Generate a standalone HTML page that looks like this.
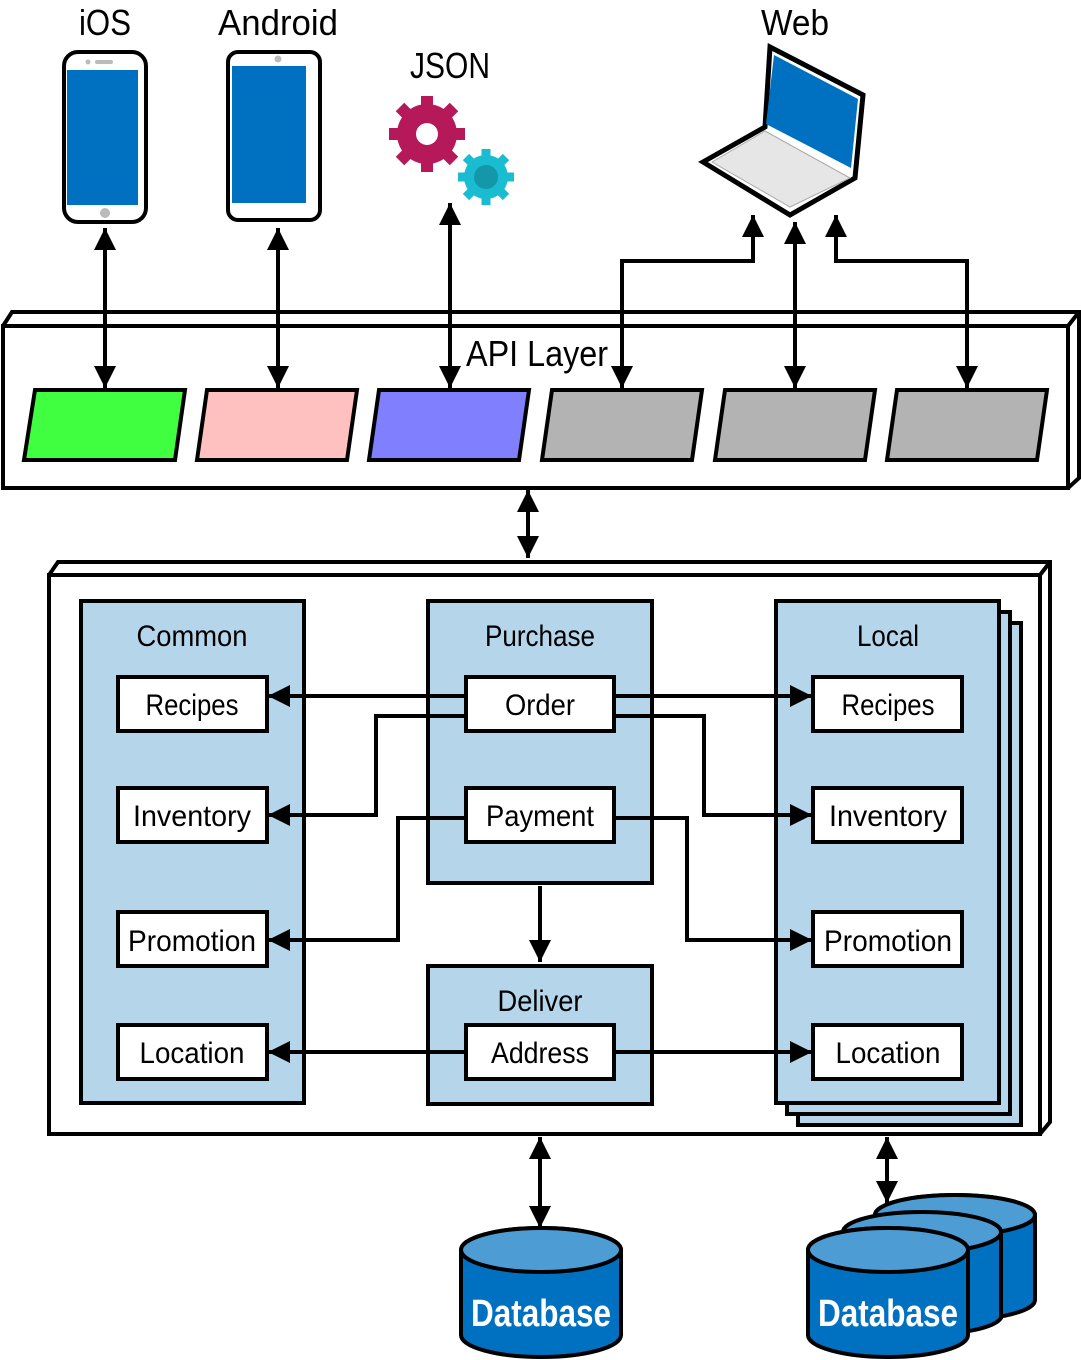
<!DOCTYPE html>
<html><head><meta charset="utf-8"><style>
html,body{margin:0;padding:0;background:#fff}
svg{display:block}
text{font-family:"Liberation Sans",sans-serif;fill:#000}
</style></head><body>
<svg width="1081" height="1360" viewBox="0 0 1081 1360" xmlns="http://www.w3.org/2000/svg">
<defs>
<marker id="a" viewBox="0 0 10 10" refX="10" refY="5" markerWidth="5.5" markerHeight="5.5" orient="auto-start-reverse" markerUnits="strokeWidth"><path d="M0,0 L10,5 L0,10 z" fill="#000"/></marker>
</defs>
<g stroke="#000" stroke-width="4" fill="none" stroke-linejoin="miter">
<path d="M3,326 L12,312 L1079,312 L1079,478 L1068,488" fill="#fff"/>
<rect x="3" y="326" width="1065" height="162" fill="#fff"/>
<line x1="1068" y1="326" x2="1079" y2="312"/>
<polygon points="35,390 185,390 175,460 24,460" fill="#40ff40"/>
<polygon points="207,390 357,390 347,460 197,460" fill="#ffc0c0"/>
<polygon points="379,390 529,390 519,460 369,460" fill="#8080ff"/>
<polygon points="552,390 702,390 692,460 542,460" fill="#b3b3b3"/>
<polygon points="725,390 875,390 865,460 715,460" fill="#b3b3b3"/>
<polygon points="897,390 1047,390 1037,460 887,460" fill="#b3b3b3"/>
<line x1="105" y1="228" x2="105" y2="388" marker-start="url(#a)" marker-end="url(#a)"/>
<line x1="278" y1="228" x2="278" y2="388" marker-start="url(#a)" marker-end="url(#a)"/>
<line x1="450" y1="203" x2="450" y2="388" marker-start="url(#a)" marker-end="url(#a)"/>
<polyline points="622,388 622,261 753,261 753,215" marker-start="url(#a)" marker-end="url(#a)"/>
<line x1="795" y1="222" x2="795" y2="388" marker-start="url(#a)" marker-end="url(#a)"/>
<polyline points="836,215 836,261 967,261 967,388" marker-start="url(#a)" marker-end="url(#a)"/>
<line x1="528" y1="490" x2="528" y2="558" marker-start="url(#a)" marker-end="url(#a)"/>
<path d="M49,575 L58,562 L1050,562 L1050,1122 L1040,1134" fill="#fff"/>
<rect x="49" y="575" width="991" height="559" fill="#fff"/>
<line x1="1040" y1="575" x2="1050" y2="562"/>
<rect x="81" y="601" width="223" height="502" fill="#b4d5ea"/>
<rect x="428" y="601" width="224" height="282" fill="#b4d5ea"/>
<rect x="428" y="966" width="224" height="138" fill="#b4d5ea"/>
<rect x="798" y="623" width="223" height="502" fill="#b4d5ea"/>
<rect x="787" y="612" width="223" height="502" fill="#b4d5ea"/>
<rect x="776" y="601" width="223" height="502" fill="#b4d5ea"/>
<line x1="466" y1="696" x2="268" y2="696" marker-end="url(#a)"/>
<line x1="614" y1="696" x2="812" y2="696" marker-end="url(#a)"/>
<polyline points="466,716 376,716 376,815 268,815" marker-end="url(#a)"/>
<polyline points="614,716 704,716 704,815 812,815" marker-end="url(#a)"/>
<polyline points="466,818 398,818 398,940 268,940" marker-end="url(#a)"/>
<polyline points="614,818 687,818 687,940 812,940" marker-end="url(#a)"/>
<line x1="466" y1="1052" x2="268" y2="1052" marker-end="url(#a)"/>
<line x1="614" y1="1052" x2="812" y2="1052" marker-end="url(#a)"/>
<line x1="540" y1="886" x2="540" y2="962" marker-end="url(#a)"/>
<g fill="#fff">
<rect x="118" y="677" width="149" height="54"/><rect x="118" y="788" width="149" height="54"/>
<rect x="118" y="912" width="149" height="54"/><rect x="118" y="1025" width="149" height="54"/>
<rect x="466" y="677" width="148" height="54"/><rect x="466" y="788" width="148" height="54"/>
<rect x="466" y="1025" width="148" height="54"/>
<rect x="813" y="677" width="149" height="54"/><rect x="813" y="788" width="149" height="54"/>
<rect x="813" y="912" width="149" height="54"/><rect x="813" y="1025" width="149" height="54"/>
</g>
<line x1="540" y1="1137" x2="540" y2="1228" marker-start="url(#a)" marker-end="url(#a)"/>
<line x1="887" y1="1137" x2="887" y2="1203" marker-start="url(#a)" marker-end="url(#a)"/>
<g fill="#0070c0">
<path d="M875,1215 A80,20 0 0 1 1035,1215 L1035,1300 A80,20 0 0 1 875,1300 Z"/>
<ellipse cx="955" cy="1215" rx="80" ry="20" fill="#4d9cd3"/>
<path d="M843,1232 A80,20 0 0 1 1001,1232 L1001,1318 A80,20 0 0 1 843,1318 Z"/>
<ellipse cx="922" cy="1232" rx="79" ry="20" fill="#4d9cd3"/>
<path d="M808,1250 A80,22 0 0 1 968,1250 L968,1335 A80,22 0 0 1 808,1335 Z"/>
<ellipse cx="888" cy="1250" rx="80" ry="22" fill="#4d9cd3"/>
<path d="M461,1250 A80,22 0 0 1 621,1250 L621,1335 A80,22 0 0 1 461,1335 Z"/>
<ellipse cx="541" cy="1250" rx="80" ry="22" fill="#4d9cd3"/>
</g>
<rect x="64" y="52" width="82" height="170" rx="14" fill="#fff"/>
<rect x="67" y="70" width="71" height="135" fill="#0070c0" stroke="none"/>
<rect x="228" y="52" width="92" height="168" rx="10" fill="#fff"/>
<rect x="232" y="66" width="74" height="137" fill="#0070c0" stroke="none"/>
<polygon points="703,162 765,127 770,47 863,95 855,178 790,215" fill="#fff" stroke-width="5"/>
<polygon points="774,55 858,99 851,168 766,124" fill="#0070c0" stroke="none"/>
<polygon points="712,162 765,131 850,178 790,207" fill="#e6e6e6" stroke="#aaa" stroke-width="1"/>
</g>
<circle cx="88" cy="62" r="2.5" fill="#bbb"/><rect x="95" y="60" width="18" height="4" rx="2" fill="#bbb"/>
<circle cx="105" cy="213" r="5" fill="#bbb"/><circle cx="278" cy="59" r="3.5" fill="#bbb"/>
<g fill="#b5195a">
<circle cx="427" cy="134" r="30"/>
<g stroke="#b5195a" stroke-width="12">
<line x1="427" y1="96" x2="427" y2="172"/><line x1="389" y1="134" x2="465" y2="134"/>
<line x1="400" y1="107" x2="454" y2="161"/><line x1="454" y1="107" x2="400" y2="161"/>
</g></g>
<circle cx="427" cy="134" r="11" fill="#fff"/>
<g fill="#19bcd0">
<circle cx="486" cy="177" r="22"/>
<g stroke="#19bcd0" stroke-width="9">
<line x1="486" y1="149" x2="486" y2="205"/><line x1="458" y1="177" x2="514" y2="177"/>
<line x1="466" y1="157" x2="506" y2="197"/><line x1="506" y1="157" x2="466" y2="197"/>
</g></g>
<circle cx="486" cy="177" r="12" fill="#1497a8"/>
<g font-size="36" text-anchor="middle" lengthAdjust="spacingAndGlyphs">
<text x="105" y="35" textLength="52" lengthAdjust="spacingAndGlyphs">iOS</text>
<text x="278" y="35" textLength="120" lengthAdjust="spacingAndGlyphs">Android</text>
<text x="450" y="78" textLength="80" lengthAdjust="spacingAndGlyphs">JSON</text>
<text x="795" y="35" textLength="68" lengthAdjust="spacingAndGlyphs">Web</text>
<text x="537" y="366" textLength="142" lengthAdjust="spacingAndGlyphs">API Layer</text>
</g>
<g font-size="30" text-anchor="middle">
<text x="192" y="646" textLength="111" lengthAdjust="spacingAndGlyphs">Common</text>
<text x="540" y="646" textLength="110" lengthAdjust="spacingAndGlyphs">Purchase</text>
<text x="888" y="646" textLength="62" lengthAdjust="spacingAndGlyphs">Local</text>
<text x="540" y="1011" textLength="85" lengthAdjust="spacingAndGlyphs">Deliver</text>
<text x="192" y="715" textLength="93" lengthAdjust="spacingAndGlyphs">Recipes</text>
<text x="192" y="826" textLength="118" lengthAdjust="spacingAndGlyphs">Inventory</text>
<text x="192" y="951" textLength="128" lengthAdjust="spacingAndGlyphs">Promotion</text>
<text x="192" y="1063" textLength="105" lengthAdjust="spacingAndGlyphs">Location</text>
<text x="540" y="715" textLength="70" lengthAdjust="spacingAndGlyphs">Order</text>
<text x="540" y="826" textLength="108" lengthAdjust="spacingAndGlyphs">Payment</text>
<text x="540" y="1063" textLength="98" lengthAdjust="spacingAndGlyphs">Address</text>
<text x="888" y="715" textLength="93" lengthAdjust="spacingAndGlyphs">Recipes</text>
<text x="888" y="826" textLength="118" lengthAdjust="spacingAndGlyphs">Inventory</text>
<text x="888" y="951" textLength="128" lengthAdjust="spacingAndGlyphs">Promotion</text>
<text x="888" y="1063" textLength="105" lengthAdjust="spacingAndGlyphs">Location</text>
</g>
<g font-size="38" text-anchor="middle" font-weight="bold">
<text x="541" y="1326" textLength="140" lengthAdjust="spacingAndGlyphs" style="fill:#fff">Database</text>
<text x="888" y="1326" textLength="140" lengthAdjust="spacingAndGlyphs" style="fill:#fff">Database</text>
</g>
</svg>
</body></html>
